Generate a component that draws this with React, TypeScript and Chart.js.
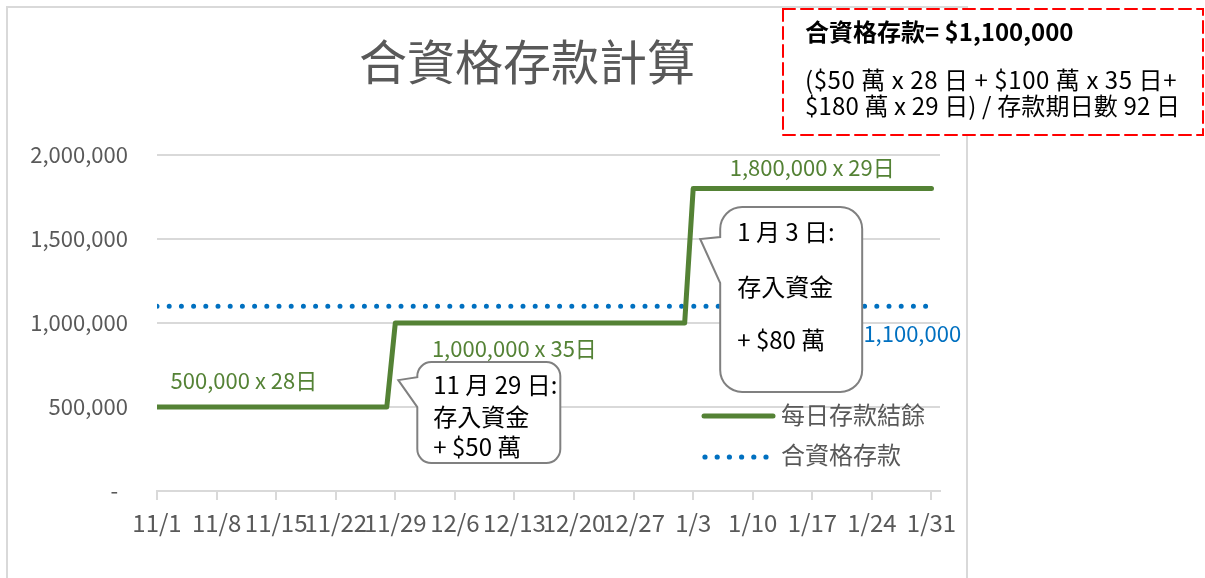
import React, { useEffect, useRef } from 'react';
import { Chart, registerables } from 'chart.js';

Chart.register(...registerables);

// ---------- data ----------
const tickLabels = ['11/1', '11/8', '11/15', '11/22', '11/29', '12/6', '12/13', '12/20', '12/27', '1/3', '1/10', '1/17', '1/24', '1/31'];
const tickDays = [0, 7, 14, 21, 28, 35, 42, 49, 56, 63, 70, 77, 84, 91];
const yTickValues = [0, 500000, 1000000, 1500000, 2000000];
const balanceValues = [500000, 1000000, 1800000];
const balanceDays = [28, 35, 29];
const qualifiedValue = 1100000;
const totalDays = 92;
const seriesNames = ['每日存款結餘', '合資格存款'];
const titleText = '合資格存款計算';
const summaryLines = ['合資格存款= $1,100,000', '($50 萬 x 28 日 + $100 萬 x 35 日+', '$180 萬 x 29 日) / 存款期日數 92 日'];
const callout1Lines = ['11 月 29 日:', '存入資金', '+ $50 萬'];
const callout2Lines = ['1 月 3 日:', '存入資金', '+ $80 萬'];

// ---------- derived ----------
const fmt = (v: number) => v.toLocaleString('en-US');
const balancePoints: { x: number; y: number }[] = [];
const segmentStarts: number[] = [];
{
  let s = 0;
  balanceValues.forEach((v, i) => {
    segmentStarts.push(s);
    balancePoints.push({ x: s, y: v });
    balancePoints.push({ x: s + balanceDays[i] - 1, y: v });
    s += balanceDays[i];
  });
}
const qualifiedPoints = [
  { x: 0, y: qualifiedValue },
  { x: totalDays - 1, y: qualifiedValue },
];
const segmentLabels = balanceValues.map((v, i) => `${fmt(v)} x ${balanceDays[i]}日`);

// ---------- styles ----------
const FONT = '"Noto Sans CJK TC", "Noto Sans", sans-serif';
const GRAY = '#595959';
const GRID = '#d9d9d9';
const GREEN = '#548235';
const BLUE = '#0070C0';

const font = (size: number, weight = 'normal') => `${weight} ${size}px ${FONT}`;

function drawCallout(
  ctx: CanvasRenderingContext2D,
  x: number, y: number, w: number, h: number, r: number,
  tipX: number, tipY: number, b1: number, b2: number,
) {
  ctx.beginPath();
  ctx.moveTo(x + r, y);
  ctx.lineTo(x + w - r, y);
  ctx.arcTo(x + w, y, x + w, y + r, r);
  ctx.lineTo(x + w, y + h - r);
  ctx.arcTo(x + w, y + h, x + w - r, y + h, r);
  ctx.lineTo(x + r, y + h);
  ctx.arcTo(x, y + h, x, y + h - r, r);
  ctx.lineTo(x, b2);
  ctx.lineTo(tipX, tipY);
  ctx.lineTo(x, b1);
  ctx.lineTo(x, y + r);
  ctx.arcTo(x, y, x + r, y, r);
  ctx.closePath();
  ctx.fillStyle = '#ffffff';
  ctx.fill();
  ctx.lineWidth = 2;
  ctx.strokeStyle = '#808080';
  ctx.stroke();
}

// draw text spread to a target width (letter spacing)
function fillSpread(ctx: CanvasRenderingContext2D, text: string, x: number, y: number, targetW: number) {
  const c: any = ctx;
  const w = ctx.measureText(text).width;
  if ('letterSpacing' in c && w < targetW) {
    const n = Array.from(text).length;
    c.letterSpacing = `${((targetW - w) / n).toFixed(2)}px`;
    ctx.fillText(text, x, y);
    c.letterSpacing = '0px';
  } else {
    ctx.fillText(text, x, y);
  }
}

const overlayPlugin = {
  id: 'overlay',
  beforeDraw(chart: any) {
    const ctx: CanvasRenderingContext2D = chart.ctx;
    ctx.save();
    ctx.strokeStyle = GRID;
    ctx.lineWidth = 2;
    ctx.strokeRect(7, 7, 960, 700);
    ctx.restore();
  },
  afterDraw(chart: any) {
    const ctx: CanvasRenderingContext2D = chart.ctx;
    const xs = chart.scales.x;
    const ys = chart.scales.y;
    ctx.save();

    // title
    ctx.font = font(48);
    ctx.fillStyle = GRAY;
    ctx.textAlign = 'center';
    ctx.textBaseline = 'middle';
    ctx.fillText(titleText, 527, 62);

    // segment data labels
    const labelPlace = [
      { day: 1.6, dy: -26 },
      { day: 32.3, dy: 26 },
      { day: 67.3, dy: -21 },
    ];
    ctx.font = font(22);
    ctx.fillStyle = GREEN;
    ctx.textAlign = 'left';
    segmentLabels.forEach((t, i) => {
      const p = labelPlace[i];
      ctx.fillText(t, xs.getPixelForValue(p.day), ys.getPixelForValue(balanceValues[i]) + p.dy);
    });
    ctx.fillStyle = BLUE;
    ctx.fillText(fmt(qualifiedValue), xs.getPixelForValue(83), ys.getPixelForValue(qualifiedValue) + 27);

    // callout 1 (step on day segmentStarts[1])
    {
      const tipX = xs.getPixelForValue(segmentStarts[1]) + 3;
      const tipY = ys.getPixelForValue(660000);
      const bx = tipX + 19;
      const by = tipY - 18;
      drawCallout(ctx, bx, by, 143, 101, 14, tipX, tipY, tipY - 3, tipY + 27);
      ctx.font = font(24);
      ctx.fillStyle = '#000000';
      ctx.textAlign = 'left';
      ctx.textBaseline = 'middle';
      const offs = [23, 55, 85];
      callout1Lines.forEach((t, i) => ctx.fillText(t, bx + 16, by + offs[i]));
    }
    // callout 2 (step on day segmentStarts[2])
    {
      const tipX = xs.getPixelForValue(segmentStarts[2]) + 7;
      const tipY = ys.getPixelForValue(1500000);
      const bx = tipX + 20;
      const by = tipY - 32;
      drawCallout(ctx, bx, by, 142, 185, 22, tipX, tipY, tipY - 2, tipY + 44);
      ctx.font = font(24);
      ctx.fillStyle = '#000000';
      ctx.textAlign = 'left';
      ctx.textBaseline = 'middle';
      const offs = [25, 80, 133];
      callout2Lines.forEach((t, i) => ctx.fillText(t, bx + 17, by + offs[i]));
    }

    // legend
    ctx.lineCap = 'round';
    ctx.strokeStyle = GREEN;
    ctx.lineWidth = 5;
    ctx.beginPath();
    ctx.moveTo(704, 416);
    ctx.lineTo(773, 416);
    ctx.stroke();
    ctx.fillStyle = BLUE;
    for (let i = 0; i < 6; i++) {
      ctx.beginPath();
      ctx.arc(705 + i * 12.2, 457, 2.6, 0, Math.PI * 2);
      ctx.fill();
    }
    ctx.font = font(24);
    ctx.fillStyle = GRAY;
    ctx.textAlign = 'left';
    ctx.textBaseline = 'middle';
    ctx.fillText(seriesNames[0], 781, 415);
    ctx.fillText(seriesNames[1], 781, 455);

    // summary box
    ctx.fillStyle = '#ffffff';
    ctx.fillRect(783, 9, 420, 126);
    ctx.setLineDash([12, 6]);
    ctx.strokeStyle = '#ff0000';
    ctx.lineWidth = 2;
    ctx.strokeRect(783, 9, 420, 126);
    ctx.setLineDash([]);
    ctx.fillStyle = '#000000';
    ctx.font = font(24, 'bold');
    ctx.fillText(summaryLines[0], 805, 32);
    ctx.font = font(24);
    fillSpread(ctx, summaryLines[1], 805, 80, 372);
    fillSpread(ctx, summaryLines[2], 805, 106, 375);

    ctx.restore();
  },
};

export default function App() {
  const ref = useRef<HTMLCanvasElement>(null);
  useEffect(() => {
    if (!ref.current) return;
    const chart = new Chart(ref.current, {
      type: 'line',
      data: {
        datasets: [
          {
            label: seriesNames[0],
            data: balancePoints,
            borderColor: GREEN,
            backgroundColor: GREEN,
            borderWidth: 5,
            pointRadius: 0,
            borderCapStyle: 'round',
            borderJoinStyle: 'round',
            tension: 0,
          },
          {
            label: seriesNames[1],
            data: qualifiedPoints,
            borderColor: BLUE,
            backgroundColor: BLUE,
            borderWidth: 5,
            borderDash: [0, 12.2],
            borderCapStyle: 'round',
            pointRadius: 0,
            tension: 0,
          },
        ],
      } as any,
      options: {
        animation: false,
        responsive: false,
        maintainAspectRatio: false,
        layout: { padding: { left: 0, right: 265, top: 155, bottom: 0 } },
        plugins: {
          legend: { display: false },
          title: { display: false },
          tooltip: { enabled: false },
        },
        scales: {
          x: {
            type: 'linear',
            min: 0,
            max: totalDays,
            afterBuildTicks: (axis: any) => {
              axis.ticks = tickDays.map((v) => ({ value: v }));
            },
            afterFit: (axis: any) => {
              axis.height = 87;
            },
            ticks: {
              autoSkip: false,
              maxRotation: 0,
              padding: 8,
              color: GRAY,
              font: { family: FONT, size: 24 },
              callback: (_v: any, i: number) => tickLabels[i],
            },
            grid: {
              drawOnChartArea: false,
              drawTicks: true,
              tickLength: 9,
              color: GRID,
              lineWidth: 2,
            },
            border: { display: true, color: GRID, width: 2 },
          },
          y: {
            min: 0,
            max: 2000000,
            afterBuildTicks: (axis: any) => {
              axis.ticks = yTickValues.map((v) => ({ value: v }));
            },
            afterFit: (axis: any) => {
              axis.width = 157;
            },
            ticks: {
              padding: 29,
              color: GRAY,
              font: { family: FONT, size: 22 },
              callback: (v: any) => (v === 0 ? '-  ' : fmt(Number(v))),
            },
            grid: { color: GRID, lineWidth: 2, drawTicks: false },
            border: { display: false },
          },
        },
      } as any,
      plugins: [overlayPlugin],
    });
    return () => chart.destroy();
  }, []);
  return (
    <div style={{ position: 'fixed', left: 0, top: 0, width: 1205, height: 578, background: '#ffffff' }}>
      <canvas ref={ref} width={1205} height={578} style={{ display: 'block', width: 1205, height: 578 }} />
    </div>
  );
}
